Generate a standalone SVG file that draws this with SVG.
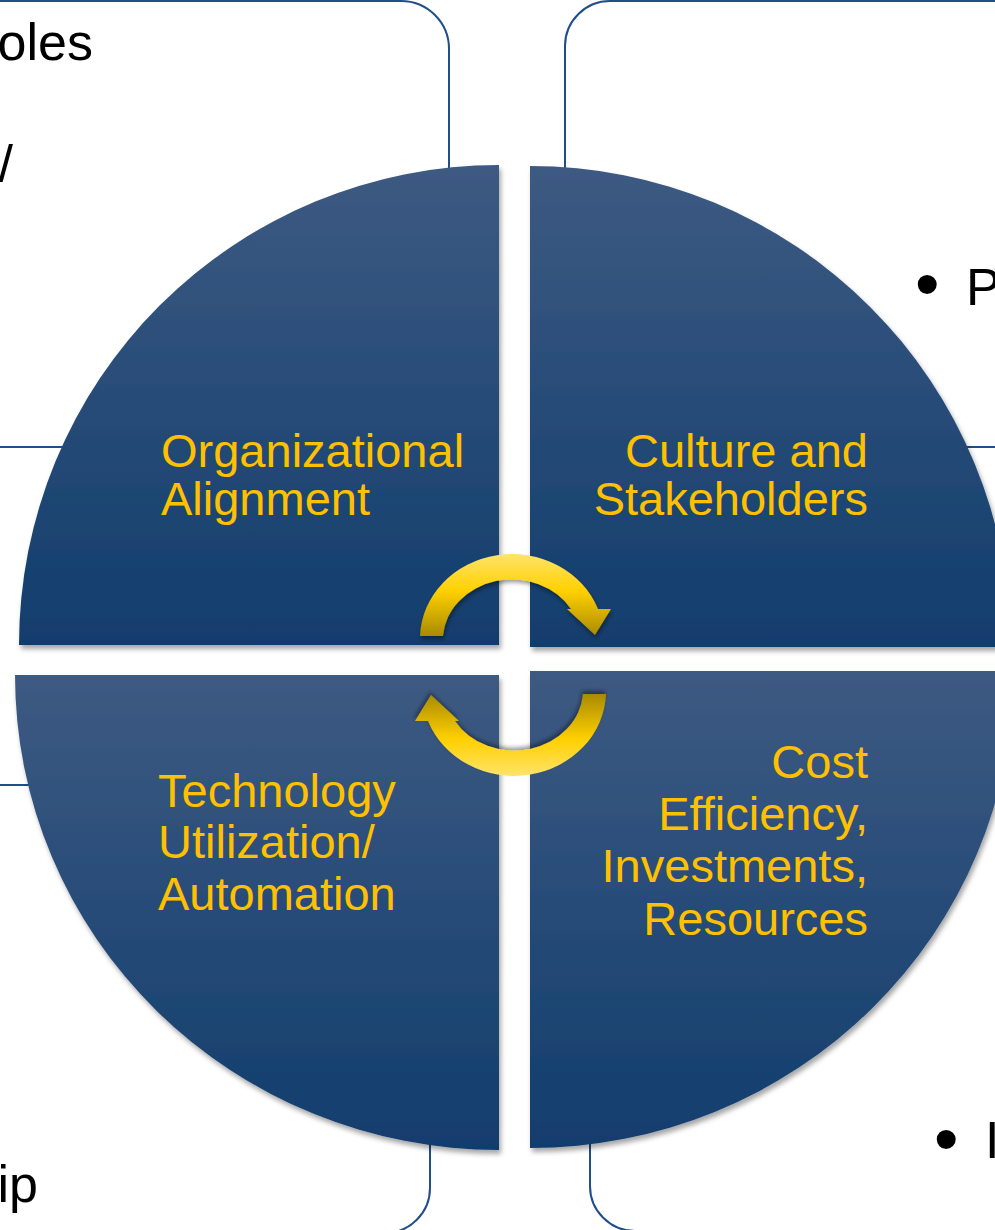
<svg xmlns="http://www.w3.org/2000/svg" width="995" height="1230" viewBox="0 0 995 1230">
  <defs>
    <linearGradient id="quadGrad" x1="0" y1="0" x2="0" y2="1">
      <stop offset="0" stop-color="#3D5A82"/>
      <stop offset="1" stop-color="#113D6D"/>
    </linearGradient>
    <linearGradient id="arrowGrad" x1="0" y1="0" x2="0" y2="1">
      <stop offset="0" stop-color="#FFE36A"/>
      <stop offset="0.45" stop-color="#FFD000"/>
      <stop offset="1" stop-color="#A98A00"/>
    </linearGradient>
    <filter id="shadow" x="-10%" y="-10%" width="120%" height="120%">
      <feDropShadow dx="2" dy="4" stdDeviation="2.5" flood-color="#000" flood-opacity="0.35"/>
    </filter>
    <filter id="ashadow" x="-20%" y="-20%" width="140%" height="140%">
      <feDropShadow dx="1" dy="3" stdDeviation="2" flood-color="#000" flood-opacity="0.4"/>
    </filter>
  </defs>
  <style>
    .box { fill: #FFFFFF; stroke: #1F4E89; stroke-width: 2; }
    .quad { fill: url(#quadGrad); filter: url(#shadow); }
    .lbl { font-family: "Liberation Sans", Arial, sans-serif; font-size: 47px; fill: #FFC000; }
    .body { font-family: "Liberation Sans", Arial, sans-serif; font-size: 52px; fill: #000000; }
    .bullet { font-family: "Liberation Sans", Arial, sans-serif; font-size: 70px; fill: #000000; }
    .arrow { fill: url(#arrowGrad); filter: url(#ashadow); }
  </style>
  <rect width="995" height="1230" fill="#FFFFFF"/>

  <g id="box-top-left">
    <rect class="box" x="-200" y="1" width="649" height="446" rx="48" ry="48"/>
    <text class="body" x="93" y="60" text-anchor="end">oles</text>
    <text class="body" x="13" y="182" text-anchor="end">/</text>
  </g>
  <g id="box-top-right">
    <rect class="box" x="565" y="1" width="600" height="446" rx="45" ry="45"/>
    <text class="bullet" x="915" y="308">•</text>
    <text class="body" x="966" y="305">P</text>
  </g>
  <g id="box-bottom-left">
    <rect class="box" x="-200" y="785" width="630" height="448" rx="45" ry="45"/>
    <text class="body" x="38" y="1202" text-anchor="end">ip</text>
  </g>
  <g id="box-bottom-right">
    <rect class="box" x="590" y="785" width="600" height="446" rx="45" ry="45"/>
    <text class="bullet" x="934" y="1163">•</text>
    <text class="body" x="985" y="1158">I</text>
  </g>

  <g id="quad-organizational-alignment">
    <path class="quad" d="M 499 645 L 19 645 A 480 480 0 0 1 499 165 Z"/>
    <text class="lbl" x="161" y="467">Organizational</text>
    <text class="lbl" x="161" y="515">Alignment</text>
  </g>
  <g id="quad-culture-stakeholders">
    <path class="quad" d="M 530 647 L 530 166 A 481 481 0 0 1 1011 647 Z"/>
    <text class="lbl" x="868" y="467" text-anchor="end">Culture and</text>
    <text class="lbl" x="868" y="515" text-anchor="end">Stakeholders</text>
  </g>
  <g id="quad-technology">
    <path class="quad" d="M 499 675 L 499 1150 A 484 475 0 0 1 15 675 Z"/>
    <text class="lbl" x="158" y="807">Technology</text>
    <text class="lbl" x="158" y="858">Utilization/</text>
    <text class="lbl" x="158" y="910">Automation</text>
  </g>
  <g id="quad-cost">
    <path class="quad" d="M 530 671 L 1014 671 A 484 477 0 0 1 530 1148 Z"/>
    <text class="lbl" x="868" y="778" text-anchor="end">Cost</text>
    <text class="lbl" x="868" y="830" text-anchor="end">Efficiency,</text>
    <text class="lbl" x="868" y="882" text-anchor="end">Investments,</text>
    <text class="lbl" x="868" y="935" text-anchor="end">Resources</text>
  </g>

  <g id="connectors">
    <path id="arrow-top" class="arrow" d="M 443 636 A 69 61 0 0 1 571 609 L 567 609 L 595 635 L 611 609 L 598 609 A 92 85 0 0 0 420 636 Z"/>
    <path id="arrow-bottom" class="arrow" transform="rotate(180 513 665)" d="M 443 636 A 69 61 0 0 1 571 609 L 567 609 L 595 635 L 611 609 L 598 609 A 92 85 0 0 0 420 636 Z"/>
  </g>
</svg>
